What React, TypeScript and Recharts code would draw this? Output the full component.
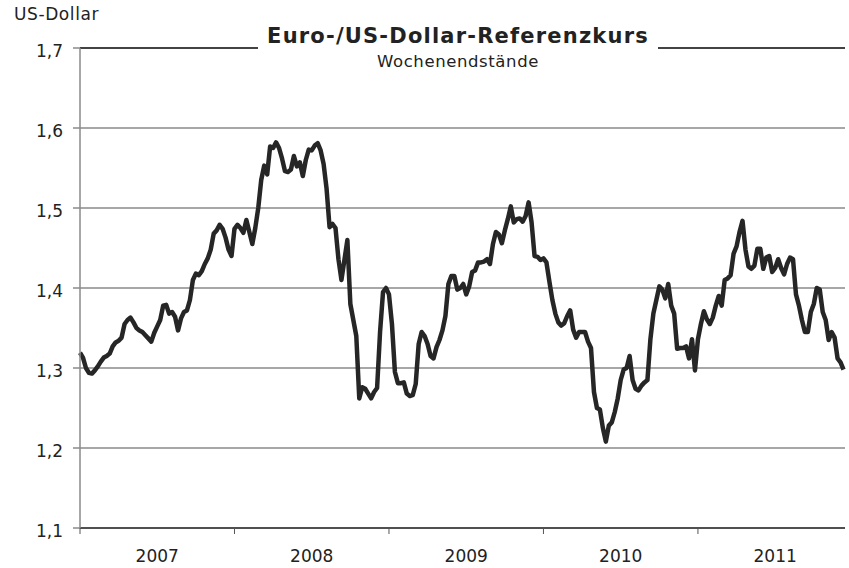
import { CartesianGrid, Line, LineChart, ReferenceLine, XAxis, YAxis } from "recharts";

// Weekly end-of-week EUR/USD reference rates.
const w2007 = [
  1.319, 1.313, 1.3, 1.294, 1.293, 1.297, 1.302, 1.308, 1.313, 1.315, 1.318, 1.327, 1.332,
  1.334, 1.338, 1.355, 1.36, 1.363, 1.357, 1.35, 1.347, 1.345, 1.341, 1.337, 1.333, 1.344,
  1.352, 1.36, 1.378, 1.379, 1.368, 1.37, 1.364, 1.347, 1.362, 1.37, 1.372, 1.385, 1.41,
  1.418, 1.416, 1.421, 1.43, 1.437, 1.448, 1.468, 1.472, 1.479, 1.474, 1.463, 1.448, 1.44,
];
const w2008 = [
  1.474, 1.479, 1.475, 1.469, 1.485, 1.47, 1.455, 1.475, 1.5, 1.535, 1.553, 1.542, 1.577,
  1.575, 1.582, 1.575, 1.562, 1.546, 1.545, 1.548, 1.565, 1.552, 1.557, 1.54, 1.56, 1.573,
  1.572, 1.578, 1.581, 1.572, 1.555, 1.524, 1.476, 1.48, 1.475, 1.436, 1.41, 1.435, 1.46,
  1.38, 1.36, 1.34, 1.262, 1.276, 1.274, 1.268, 1.262, 1.27, 1.275, 1.345, 1.395, 1.4,
];
const w2009 = [
  1.392, 1.355, 1.295, 1.281, 1.281, 1.282, 1.268, 1.265, 1.266, 1.28, 1.33, 1.345, 1.34,
  1.33, 1.315, 1.312, 1.326, 1.335, 1.347, 1.365, 1.405, 1.415, 1.415, 1.398, 1.4, 1.405,
  1.392, 1.402, 1.42, 1.422, 1.432, 1.432, 1.433, 1.436, 1.43, 1.455, 1.47, 1.467, 1.456,
  1.472, 1.486, 1.502, 1.482, 1.486, 1.487, 1.483, 1.49, 1.507, 1.482, 1.44, 1.439, 1.435,
];
const w2010 = [
  1.437, 1.432, 1.408, 1.385, 1.368, 1.357, 1.353, 1.356, 1.365, 1.372, 1.348, 1.338, 1.345,
  1.345, 1.345, 1.333, 1.325, 1.27, 1.25, 1.248, 1.225, 1.208, 1.228, 1.232, 1.245, 1.262,
  1.285, 1.298, 1.3, 1.315, 1.285, 1.274, 1.272, 1.278, 1.282, 1.285, 1.336, 1.368, 1.385,
  1.402, 1.398, 1.387, 1.405, 1.378, 1.368, 1.324, 1.325, 1.325, 1.327, 1.312, 1.336, 1.297,
];
const w2011 = [
  1.336, 1.355, 1.371, 1.361, 1.355, 1.363, 1.378, 1.39, 1.378, 1.41, 1.412, 1.416, 1.443,
  1.452, 1.47, 1.484, 1.448, 1.427, 1.424, 1.428, 1.449, 1.449, 1.424, 1.438, 1.44, 1.42,
  1.425, 1.436, 1.425, 1.417, 1.43, 1.438, 1.436, 1.392, 1.378, 1.36, 1.345, 1.345, 1.37,
  1.38, 1.4, 1.398, 1.37, 1.36, 1.335, 1.345, 1.338, 1.312, 1.307, 1.298,
];

const years = ["2007", "2008", "2009", "2010", "2011"];
const yTicks = [1.1, 1.2, 1.3, 1.4, 1.5, 1.6, 1.7];
const weeksPerYear = 52;

const data = [...w2007, ...w2008, ...w2009, ...w2010, ...w2011].map((v, i) => ({ i, v }));

const yearStarts = years.map((_, k) => k * weeksPerYear);
const yearMids = years.map((_, k) => k * weeksPerYear + weeksPerYear / 2);
const xTicks = [...yearStarts, ...yearMids].sort((a, b) => a - b);

const font = "'DejaVu Sans', Verdana, sans-serif";

function YearTick({ x, y, payload }: any) {
  const v = payload.value as number;
  if (v % weeksPerYear === 0) {
    return <line x1={x} x2={x} y1={y} y2={y + 6} stroke="#555" strokeWidth={1} />;
  }
  const label = years[Math.floor(v / weeksPerYear)];
  return (
    <text x={x} y={y + 34} textAnchor="middle" fontSize={17} fill="#222" fontFamily={font}>
      {label}
    </text>
  );
}

export default function App() {
  return (
    <div style={{ position: "absolute", left: 0, top: 0, width: 849, height: 568, background: "#fff" }}>
      <LineChart width={849} height={568} data={data} margin={{ top: 48, right: 4, bottom: 0, left: 0 }}>
        <CartesianGrid vertical={false} stroke="#8a8a8a" strokeWidth={1.5} />
        <ReferenceLine y={1.7} stroke="#222" strokeWidth={1.5} />
        <XAxis
          dataKey="i"
          type="number"
          domain={[0, 257.5]}
          ticks={xTicks}
          interval={0}
          tickLine={false}
          tickSize={0}
          tickMargin={0}
          height={40}
          axisLine={{ stroke: "#333", strokeWidth: 1.5 }}
          tick={<YearTick />}
        />
        <YAxis
          domain={[1.1, 1.7]}
          ticks={yTicks}
          interval={0}
          width={80}
          tickSize={7}
          tickMargin={10}
          axisLine={{ stroke: "#8a8a8a", strokeWidth: 1.5 }}
          tickLine={{ stroke: "#8a8a8a", strokeWidth: 1.5 }}
          tickFormatter={(v: number) => v.toFixed(1).replace(".", ",")}
          tick={{ fontSize: 17, fill: "#222", fontFamily: font, dy: 3 }}
        />
        <Line
          dataKey="v"
          type="linear"
          stroke="#262626"
          strokeWidth={4.5}
          strokeLinejoin="round"
          dot={false}
          isAnimationActive={false}
        />
      </LineChart>
      <div
        style={{
          position: "absolute",
          left: 14,
          top: 4,
          fontFamily: font,
          fontSize: 17,
          color: "#222",
          letterSpacing: 0.6,
        }}
      >
        US-Dollar
      </div>
      <div
        style={{
          position: "absolute",
          left: 258,
          top: 24,
          width: 400,
          height: 48,
          background: "#fff",
          textAlign: "center",
          fontFamily: font,
          color: "#222",
        }}
      >
        <div style={{ fontSize: 21, fontWeight: "bold", lineHeight: "24px", letterSpacing: 1.2 }}>
          Euro-/US-Dollar-Referenzkurs
        </div>
        <div style={{ fontSize: 16.5, lineHeight: "20px", marginTop: 4, letterSpacing: 0.6 }}>
          Wochenendstände
        </div>
      </div>
    </div>
  );
}
